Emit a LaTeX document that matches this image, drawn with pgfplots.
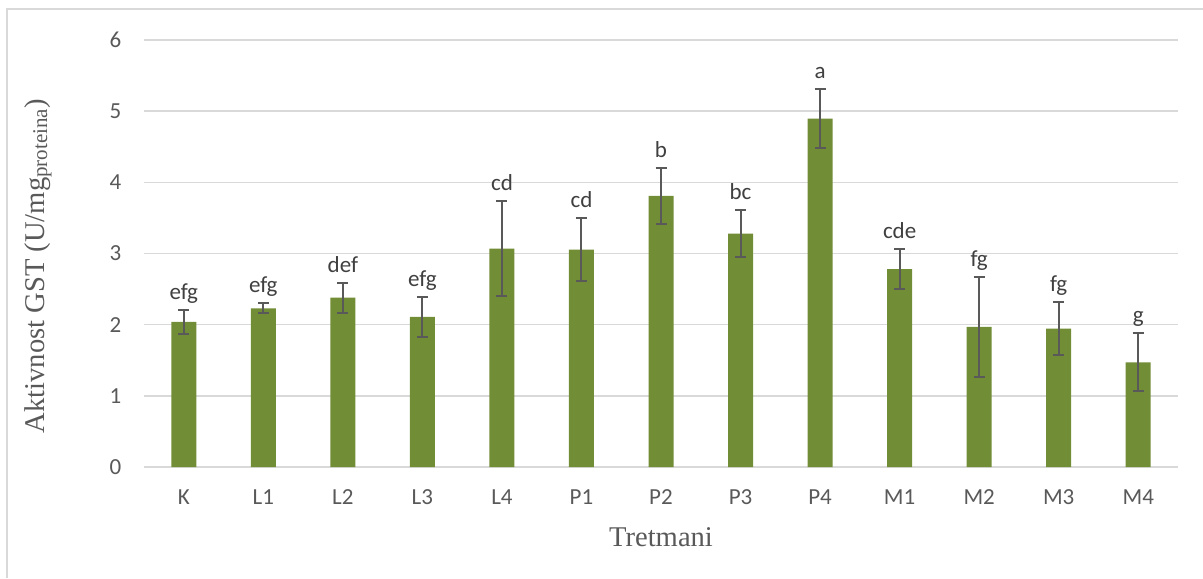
\documentclass[border=0pt]{standalone}
\usepackage{pgfplots}
\pgfplotsset{compat=1.18}
\usepackage{pgfplotstable}
\usepackage{fontspec}
\setmainfont{Liberation Serif}
\newfontfamily\calibri{Carlito}
\definecolor{bargreen}{HTML}{718E37}
\definecolor{txtgray}{HTML}{595959}
\definecolor{labgray}{HTML}{404040}
\definecolor{gridgray}{HTML}{D9D9D9}
\definecolor{errgray}{HTML}{595959}
\pgfplotstableread{
x y err lab
0 2.04 0.17 efg
1 2.23 0.07 efg
2 2.38 0.21 def
3 2.11 0.285 efg
4 3.07 0.665 cd
5 3.055 0.445 cd
6 3.81 0.395 b
7 3.28 0.325 bc
8 4.895 0.415 a
9 2.78 0.28 cde
10 1.97 0.70 fg
11 1.945 0.367 fg
12 1.47 0.407 g
}\data
\begin{document}
\begin{tikzpicture}[x=1pt,y=1pt]
\useasboundingbox (0,0) rectangle (601.5,289);
\draw[gridgray, line width=0.6pt] (3.5,0) -- (3.5,284.5) -- (601.5,284.5);
\begin{axis}[
 at={(72pt,55.5pt)}, anchor=south west,
 scale only axis, width=517pt, height=213.5pt,
 xmin=-0.5, xmax=12.5, ymin=0, ymax=6,
 xtick={0,...,12}, xticklabels={K,L1,L2,L3,L4,P1,P2,P3,P4,M1,M2,M3,M4},
 ytick={0,...,6},
 axis line style={draw=none}, major tick length=0pt,
 ymajorgrids, grid style={gridgray, line width=0.75pt},
 tick label style={font=\calibri\fontsize{11.5}{13}\selectfont, text=txtgray},
 /pgf/number format/assume math mode=true,
 yticklabel style={xshift=-7.8pt},
 xticklabel style={yshift=-8pt},
 xlabel={Tretmani}, ylabel={Aktivnost GST (U/mg{\fontsize{10.5}{12}\selectfont\raisebox{-0.3ex}{proteina}})},
 label style={font=\fontsize{14.3}{16}\selectfont, text=txtgray},
 xlabel style={at={(axis description cs:0.5,-0.164)}, anchor=center},
 ylabel style={at={(axis description cs:-0.1025,0.47)}, anchor=center},
 clip=false,
]
\addplot[ybar, bar width=12.5pt, fill=bargreen, draw=none,
  error bars/.cd, y dir=both, y explicit,
  error bar style={draw=errgray, line width=1pt},
  error mark options={draw=errgray, line width=1pt, mark size=2.75pt, rotate=90}]
  table[x=x, y=y, y error=err] {\data};
\addplot[only marks, mark=*, mark size=0pt, draw=none, fill=none,
  nodes near coords, point meta=explicit symbolic,
  nodes near coords style={anchor=base, yshift=5.25pt, inner sep=0pt,
    font=\calibri\fontsize{11.5}{13}\selectfont, text=labgray}]
  table[x=x, y expr=\thisrow{y}+\thisrow{err}, meta=lab] {\data};
\end{axis}
\end{tikzpicture}
\end{document}
